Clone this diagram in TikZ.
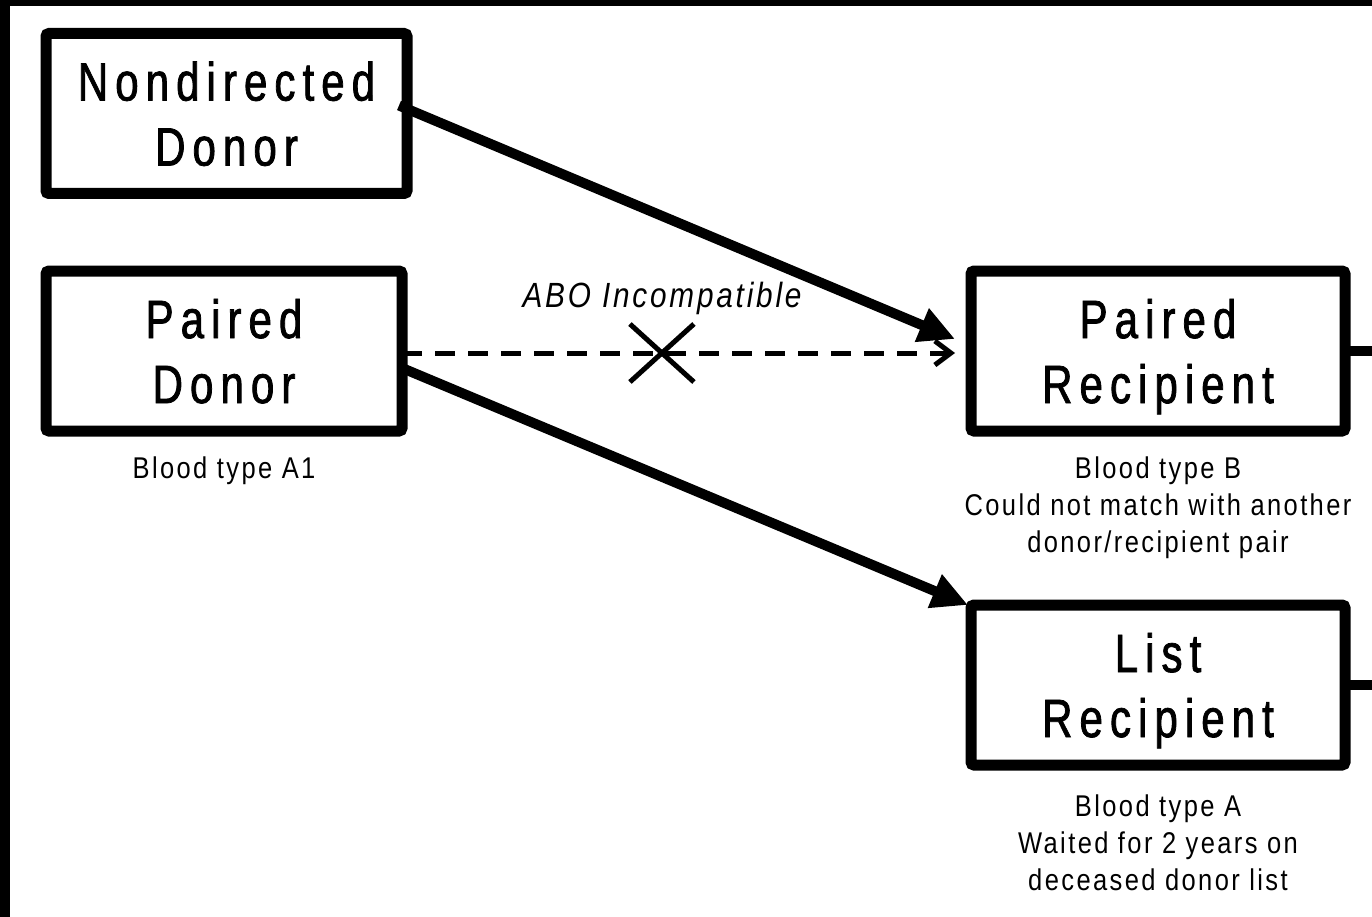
\documentclass[tikz,border=0pt]{standalone}
\usepackage{fontspec}
\setmainfont{Liberation Sans}[FakeStretch=0.85,LetterSpace=8]
\newfontfamily\boxfont{Liberation Sans}[FakeStretch=0.78,LetterSpace=13,FakeBold=1.4]
\usetikzlibrary{arrows.meta}

\begin{document}
\begin{tikzpicture}[x=1pt,y=-1pt,
  box/.style={draw, line width=11pt, rounded corners=3pt, outer sep=0pt,
    inner sep=0pt, minimum height=160pt, align=center, text depth=0pt,
    font={\boxfont\fontsize{54}{65}\selectfont}},
  note/.style={anchor=north, inner sep=0pt, align=center,
    font={\fontsize{30}{37}\selectfont}},
  heavy/.style={line width=10pt, -{Triangle[length=36pt,width=34pt]}},
  blocked/.style={line width=5pt, dash pattern=on 20pt off 13pt,
    -{Straight Barb[length=16pt,width=24pt,line width=5pt]}},
  stub/.style={line width=10pt}
]
\useasboundingbox (0,0) rectangle (1372,917);

% frame edges
\fill (0,0) rectangle (1372,6);
\fill (0,0) rectangle (10,917);

% boxes
\node[box, minimum width=361pt] (nd) at (226.5,113.5) {Nondirected\\Donor};
\node[box, minimum width=356pt] (pd) at (224,351) {Paired\\Donor};
\node[box, minimum width=374pt] (pr) at (1158,351) {Paired\\Recipient};
\node[box, minimum width=374pt] (lr) at (1158,685) {List\\Recipient};

% notes under the boxes
\node[note] (pdnote) at ([yshift=-26pt]pd.south) {Blood type A1};
\node[note] (prnote) at ([yshift=-26pt]pr.south) {Blood type B\\Could not match with another\\donor/recipient pair};
\node[note] (lrnote) at ([yshift=-30pt]lr.south) {Blood type A\\Waited for 2 years on\\deceased donor list};

% outgoing stubs at the right edge
\coordinate (prout) at (1372,351);
\coordinate (lrout) at (1372,685);
\draw[stub] (pr.east) -- (prout);
\draw[stub] (lr.east) -- (lrout);

% donations
\draw[heavy] ([xshift=-8pt,yshift=8pt]nd.east) -- ([xshift=-16pt,yshift=12pt]pr.west);
\draw[heavy] ([yshift=-17pt]pd.east) -- ([xshift=-3pt]lr.north west);

% incompatible direct donation
\draw[blocked] ([yshift=-2pt]pd.east) -- ([xshift=-16pt,yshift=-2pt]pr.west)
  coordinate[pos=0.47] (xmark);
\draw[line width=5pt] (xmark) ++(-32,-29) -- ++(64,58);
\draw[line width=5pt] (xmark) ++(32,-29) -- ++(-64,58);
\node[font={\fontsize{35}{42}\selectfont\itshape}, inner sep=0pt] (abo) at (662,298) {ABO Incompatible};
\end{tikzpicture}
\end{document}
